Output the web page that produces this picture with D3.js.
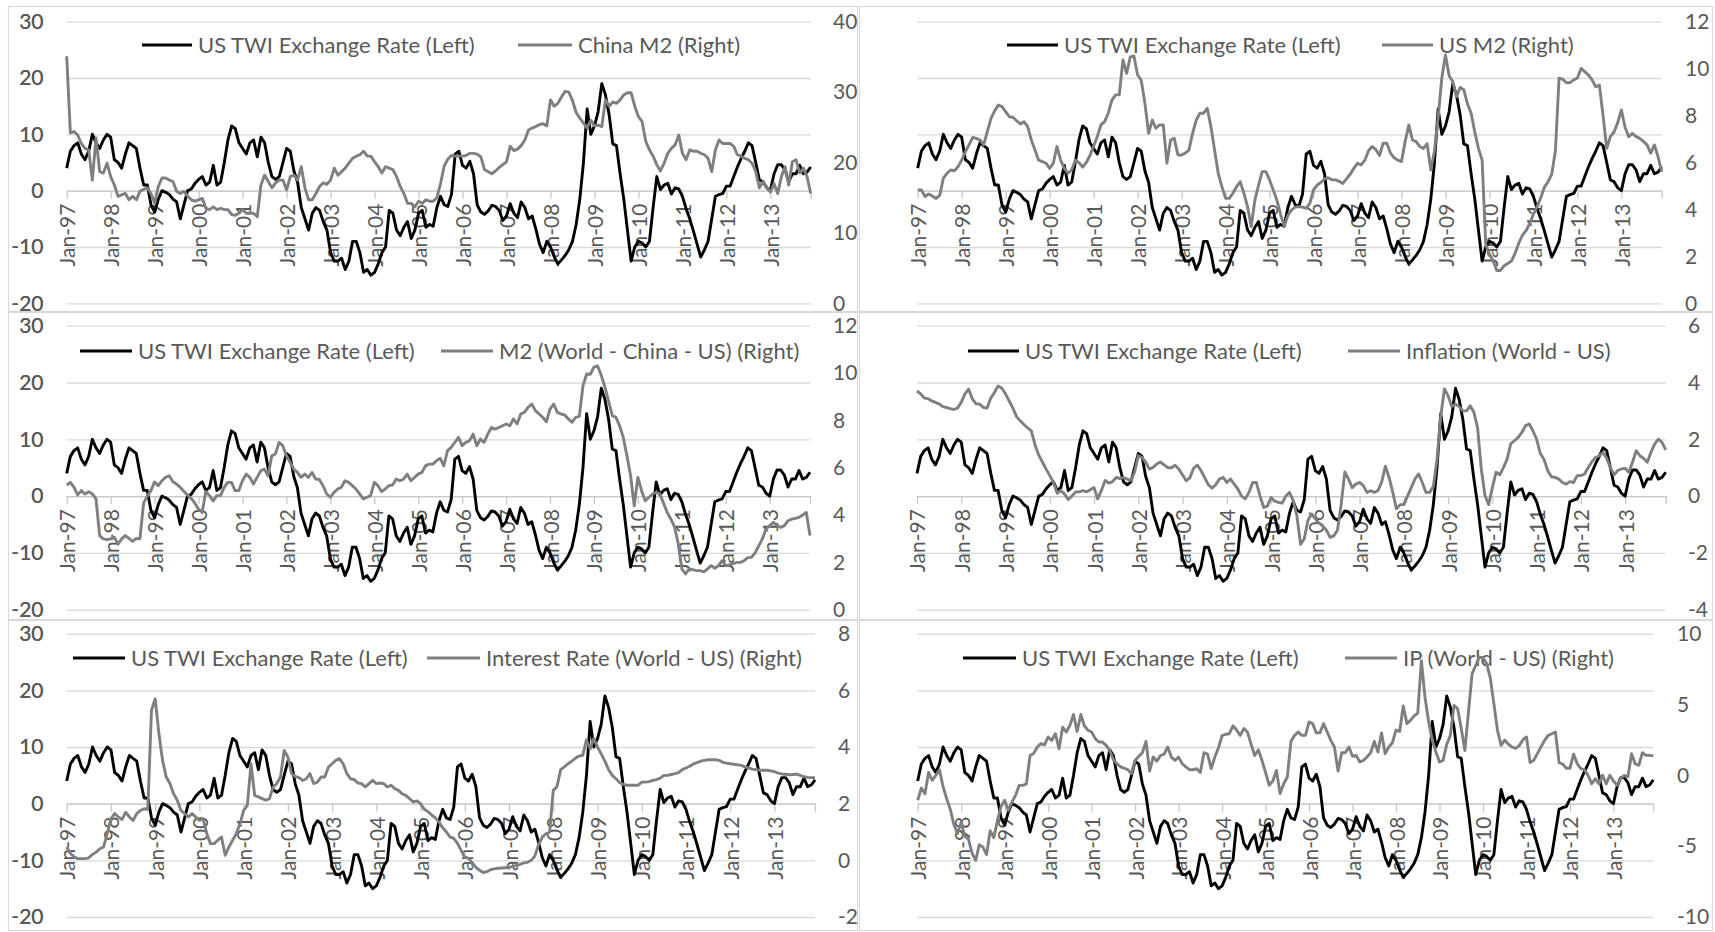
<!DOCTYPE html>
<html>
<head>
<meta charset="utf-8">
<script src="https://cdn.jsdelivr.net/npm/d3@7"></script>
<style>
  html, body { margin: 0; padding: 0; background: #ffffff; }
  svg { display: block; }
  text { font-family: Lato, "Open Sans", sans-serif; fill: #595959; }
</style>
</head>
<body>
<svg id="chart" width="1715" height="932"></svg>
<script>
// ---- Data: monthly, Jan-1997 .. Dec-2013 (204 observations) ----
const tickLabels = ["Jan-97","Jan-98","Jan-99","Jan-00","Jan-01","Jan-02","Jan-03","Jan-04","Jan-05",
                    "Jan-06","Jan-07","Jan-08","Jan-09","Jan-10","Jan-11","Jan-12","Jan-13"];

// US trade-weighted exchange rate, % y/y (left axis of every panel)
const usTwi = [
  4, 7, 8, 8.5, 6.5, 5.5, 7, 10, 8.5, 7.5, 9, 10,
  9.5, 5.5, 5, 4, 6.5, 8.5, 8, 7.5, 4, 1, 1, -2.5,
  -3.8, -1.5, 0, -0.3, -0.7, -1.5, -2, -5, -2.5, 0, 0.3, 1.3,
  2, 2.5, 1, 1.5, 4.5, 1, 1.5, 5, 9, 11.5, 11, 8.5,
  7.5, 6.5, 8.5, 9, 6, 9.5, 8.5, 5, 2.5, 2, 2.5, 5,
  7.5, 7, 3.5, 1.5, -3, -5, -7, -4, -3, -3.5, -5.5, -7,
  -11, -12.5, -12.5, -12, -14, -12.5, -9, -9, -11, -14.5, -14, -15,
  -14.5, -13, -11, -10, -3.5, -4, -7, -8, -6.5, -5.5, -8.5, -7,
  -4, -3.5, -6.5, -6, -6.3, -3, -1, -2.5, -2.8, -0.6, 6.5, 7,
  4.5, 4, 5.2, 3, -2.5, -3.8, -4.2, -3.6, -2.6, -2.8, -3.5, -5.3,
  -4.5, -2.3, -4, -4.8, -2, -3, -5, -4.5, -6.8, -9.5, -11, -9,
  -10, -11.7, -13, -12.3, -11.5, -10.5, -9, -6, -1.5, 5, 14.5, 10,
  11.5, 14, 19, 17, 13.5, 8.3, 8, 3, -1.5, -7, -12.5, -10,
  -9, -9.3, -10, -9, -3, 2.5, 0.2, 1, 1.3, -0.6, 0.5, 0.3,
  -1, -3.2, -5, -7.2, -9.5, -11.8, -10.5, -9, -5, -1, -0.7, -0.5,
  0.8, 0.8, 2.5, 4.2, 5.7, 7, 8.5, 8, 5, 1.9, 1.6, 0.5,
  0, 3, 4.6, 4.6, 3.7, 1.6, 3, 3, 4.5, 3, 3.3, 4.2
];

const chinaM2 = [
  35.1, 24.2, 24.4, 23.9, 22.7, 22, 21.8, 17.5, 23.5, 18.7, 18.5, 19.9,
  18, 16.8, 15.2, 15.4, 15.6, 14.7, 15.2, 14.7, 15.9, 16.2, 16.4, 15.6,
  14.2, 16.6, 17.8, 17.8, 17.5, 17.3, 15.9, 15.6, 15.9, 15.2, 14.7, 14.5,
  14.7, 14.9, 13.5, 13.3, 13.7, 13.3, 13.5, 13.3, 13.3, 12.6, 12.5, 12.8,
  13.3, 12.8, 12.8, 12.8, 12.3, 16.8, 18.2, 17.3, 16.4, 17.1, 17.5, 17.5,
  16.1, 18, 18.2, 17.5, 19.4, 16.4, 14.7, 14.7, 15.6, 16.6, 17.1, 16.9,
  17.5, 19.2, 18.2, 18.7, 19.2, 19.9, 20.6, 20.9, 21.1, 21.6, 20.9, 20.9,
  20.1, 19.4, 18.5, 19.4, 19.2, 19, 18, 16.6, 15.6, 14.2, 14.2, 13.7,
  14.5, 14.2, 14.7, 14.5, 14.5, 15, 17, 19.5, 20.5, 21, 20.9, 20.9,
  20.9, 21, 21.3, 21.3, 21.2, 20.8, 19, 18.7, 18.4, 18.8, 19.3, 19.7,
  20.1, 22.3, 21.7, 21.9, 22.4, 23.2, 24.6, 24.9, 25.1, 25.4, 25.5, 25.2,
  28.9, 28, 28.4, 29.3, 30.1, 30, 28.8, 27.1, 26.3, 25.6, 24.9, 26,
  25.2, 25.3, 25.1, 28.9, 28, 28.6, 28.4, 28.9, 29.6, 29.9, 29.9, 28,
  26.5, 25.8, 23, 21.8, 20.9, 19.7, 18.8, 19.9, 21.3, 22, 22.5, 23.9,
  21.3, 20.4, 21.8, 21.6, 21.6, 21.3, 21.1, 20.6, 18.7, 21.8, 23.2, 22.7,
  22.7, 22.7, 22.3, 21.1, 20.9, 20.6, 20.4, 19.9, 18.7, 16.4, 17.3, 16.4,
  15.8, 17, 15.6, 18, 19.4, 16.8, 20.1, 20.4, 18.5, 19.2, 18, 15.6
];

const usM2 = [
  4.83, 4.83, 4.55, 4.66, 4.57, 4.47, 4.6, 5.33, 5.54, 5.68, 5.65, 5.82,
  6.1, 6.46, 6.75, 7.07, 7.03, 6.96, 6.75, 7.32, 7.88, 8.2, 8.45, 8.38,
  8.17, 7.95, 7.93, 7.78, 7.64, 7.74, 7.53, 6.96, 6.53, 6.1, 6.04, 5.97,
  5.75, 5.97, 6.68, 6.1, 5.75, 5.54, 5.68, 6.1, 6, 5.8, 6, 6.3,
  6.7, 7.1, 7.6, 7.74, 8.1, 8.66, 8.88, 8.88, 10.37, 9.8, 10.5, 10.54,
  9.73, 9.5, 8.52, 7.24, 7.81, 7.46, 7.6, 7.6, 5.97, 6.96, 7.03, 6.32,
  6.32, 6.4, 6.53, 7.24, 7.81, 8.1, 8.1, 8.31, 7.53, 6.53, 5.54, 4.97,
  4.47, 4.47, 4.69, 4.97, 5.18, 4.69, 4.12, 3.27, 4.4, 5.04, 5.61, 5.61,
  5.26, 4.83, 4.4, 3.8, 3.27, 3.75, 3.98, 4.1, 4.12, 4.1, 4.05, 4.26,
  4.83, 5.04, 5.15, 5.3, 5.35, 5.26, 5.26, 5.2, 5.11, 5.3, 5.5, 5.75,
  5.97, 5.9, 6.1, 6.5, 6.68, 6.55, 6.3, 6.82, 6.82, 6.4, 6.2, 6.1,
  6.04, 6.9, 7.6, 6.96, 6.89, 6.68, 6.6, 6.8, 5.68, 6.5, 7.9, 9.6,
  10.58, 9.7, 9.45, 8.8, 9.2, 9.1, 8.5, 8.1, 7.3, 6.6, 6.1, 2.5,
  2.1, 1.8, 1.4, 1.4, 1.6, 1.7, 1.8, 2.13, 2.56, 2.9, 3.1, 3.4,
  3.8, 4.12, 4.5, 4.95, 5.18, 5.5, 6.5, 9.59, 9.55, 9.4, 9.4, 9.52,
  9.6, 10.01, 9.87, 9.73, 9.52, 9.23, 9.3, 8, 6.6, 7.1, 7.3, 7.7,
  8.24, 7.5, 7.1, 7.24, 7.1, 7.03, 6.9, 6.75, 6.4, 6.75, 6.25, 5.6
];

const m2RestOfWorld = [
  5.27, 5.38, 5.17, 4.85, 5.03, 4.89, 4.99, 4.89, 4.68, 3.13, 2.99, 2.96,
  2.99, 3.06, 2.77, 2.99, 3.13, 3.01, 2.89, 3.01, 3.0, 4.5, 4.8, 5.03,
  5.4, 5.24, 5.45, 5.59, 5.66, 5.41, 5.31, 5.17, 5.0, 4.85, 4.7, 4.5,
  4.25, 4.11, 5.0, 4.82, 4.6, 4.82, 4.82, 5.17, 5.38, 5.38, 5.03, 5.03,
  5.45, 5.73, 5.59, 5.31, 5.59, 5.87, 5.94, 5.66, 6.5, 6.58, 7.07, 6.93,
  6.51, 6.23, 5.94, 5.8, 5.59, 5.73, 5.59, 5.8, 5.52, 5.5, 5.24, 4.89,
  4.75, 4.96, 5.1, 5.17, 5.45, 5.38, 5.24, 5.1, 4.89, 4.68, 4.75, 4.82,
  5.38, 5.24, 4.99, 5.1, 5.24, 5.27, 5.52, 5.45, 5.52, 5.73, 5.45, 5.59,
  5.73, 5.8, 6.08, 6.15, 6.15, 6.3, 6.4, 6.08, 6.72, 6.86, 7.07, 7.28,
  6.93, 7.07, 7.14, 7.42, 6.93, 7.21, 7.07, 7.42, 7.7, 7.63, 7.7, 7.77,
  7.85, 7.77, 8.06, 7.85, 8.27, 8.34, 8.55, 8.69, 8.41, 8.27, 8.13, 7.94,
  8.48, 8.69, 8.34, 8.27, 8.23, 8.06, 7.92, 8.13, 8.17, 9.46, 9.96, 9.95,
  10.25, 10.3, 9.9, 9.4, 8.8, 8.2, 8.13, 7.77, 7.28, 6.51, 5.66, 4.39,
  5.59, 5.03, 4.6, 4.75, 4.89, 4.96, 4.9, 4.5, 4.11, 3.83, 3.5, 2.8,
  1.72, 1.51, 1.72, 1.69, 1.65, 1.65, 1.6, 1.72, 1.86, 1.75, 1.86, 2.07,
  1.86, 1.89, 1.95, 2.0, 2.0, 2.07, 2.2, 2.21, 2.4, 2.7, 2.99, 3.41,
  3.55, 3.69, 3.55, 3.48, 3.55, 3.76, 3.83, 3.86, 3.9, 4.0, 4.11, 3.13
];

const inflationDiff = [
  3.7, 3.6, 3.45, 3.43, 3.35, 3.3, 3.25, 3.15, 3.12, 3.08, 3.05, 3.1,
  3.3, 3.6, 3.77, 3.42, 3.25, 3.24, 3.12, 3.1, 3.45, 3.65, 3.88, 3.8,
  3.6, 3.35, 3.1, 2.8, 2.65, 2.52, 2.4, 2.3, 1.8, 1.45, 1.2, 0.95,
  0.72, 0.48, 0.1, 0.2, 0.07, -0.12, 0.0, 0.15, 0.15, 0.19, 0.15, 0.22,
  0.3, -0.1, 0.2, 0.55, 0.46, 0.51, 0.66, 0.62, 0.65, 0.6, 0.55, 0.85,
  1.42, 1.36, 1.2, 0.95, 1.01, 1.13, 1.2, 1.1, 1.0, 1.0, 1.09, 0.95,
  0.74, 0.54, 0.65, 0.98, 1.09, 0.9, 0.65, 0.4, 0.28, 0.4, 0.6, 0.66,
  0.48, 0.6, 0.42, 0.25, 0.0, -0.1, 0.13, 0.48, 0.48, 0.01, -0.4, -0.35,
  -0.05, -0.18, -0.22, -0.25, 0.0, 0.13, -0.16, -0.69, -1.7, -1.5, -0.85, -0.63,
  -0.8, -0.95, -1.05, -1.2, -1.45, -1.4, -1.2, -0.3, 0.85, 0.6, 0.3, 0.42,
  0.48, 0.37, 0.13, 0.19, 0.13, 0.2, 0.5, 1.05, 0.66, 0.13, -0.45, -0.3,
  -0.3, 0.0, 0.3, 0.6, 0.78, 0.48, 0.13, 0.13, 0.35, 1.3, 2.8, 3.77,
  3.53, 3.15, 3.24, 3.15, 3.0, 3.0, 3.18, 2.95, 2.4, 0.95, 0.02, -0.3,
  0.3, 0.84, 0.75, 1.0, 1.3, 1.85, 1.95, 2.07, 2.24, 2.48, 2.54, 2.3,
  2.0, 1.5, 1.3, 0.9, 0.68, 0.66, 0.6, 0.48, 0.42, 0.51, 0.48, 0.72,
  0.72, 0.78, 1.01, 1.21, 1.36, 1.42, 1.54, 1.33, 1.0, 0.75, 0.9, 0.96,
  0.98, 0.84, 1.19, 1.6, 1.42, 1.33, 1.19, 1.54, 1.83, 2.01, 1.89, 1.63
];

const interestDiff = [
  0.47, 0.24, 0.12, 0.06, 0.06, 0.06, 0.09, 0.21, 0.29, 0.41, 0.47, 0.94,
  1.47, 1.65, 1.53, 1.44, 1.7, 1.53, 1.41, 1.65, 1.76, 1.82, 1.8, 5.3,
  5.7, 4.5, 3.53, 2.94, 2.71, 2.35, 2.12, 1.76, 1.65, 1.53, 1.65, 1.53,
  1.41, 1.47, 0.94, 0.59, 0.59, 0.71, 0.82, 0.18, 0.47, 0.71, 0.94, 1.29,
  1.76, 1.94, 3.41, 2.29, 2.24, 2.18, 2.12, 2.18, 2.59, 2.71, 2.94, 3.88,
  3.65, 3.06, 2.96, 2.92, 2.82, 2.88, 3.06, 2.71, 2.76, 2.94, 2.94, 3.29,
  3.41, 3.53, 3.59, 3.41, 3.06, 2.88, 2.85, 2.73, 2.71, 2.59, 2.71, 2.82,
  2.71, 2.73, 2.71, 2.59, 2.65, 2.53, 2.47, 2.35, 2.29, 2.18, 2.06, 2.1,
  2.0, 1.8, 1.72, 1.6, 1.5, 1.35, 1.15, 1.0, 0.82, 0.78, 0.6, 0.35,
  0.12, 0.07, -0.08, -0.25, -0.35, -0.43, -0.4, -0.33, -0.3, -0.28, -0.27, -0.26,
  -0.24, -0.22, -0.18, -0.14, -0.09, -0.07, 0.0, 0.15, 0.55, 0.82, 0.94, 1.0,
  2.47, 2.6, 3.2, 3.3, 3.41, 3.5, 3.6, 3.68, 3.71, 4.25, 3.94, 4.3,
  4.0, 3.76, 3.5, 3.2, 3.0, 2.88, 2.75, 2.68, 2.65, 2.65, 2.65, 2.65,
  2.76, 2.76, 2.78, 2.82, 2.85, 2.9, 3.0, 3.0, 3.03, 3.06, 3.1, 3.2,
  3.26, 3.32, 3.4, 3.45, 3.5, 3.53, 3.55, 3.55, 3.55, 3.53, 3.46, 3.43,
  3.41, 3.39, 3.37, 3.35, 3.3, 3.26, 3.22, 3.2, 3.18, 3.18, 3.18, 3.16,
  3.13, 3.08, 3.05, 3.04, 3.02, 3.03, 3.04, 3.0, 2.95, 2.93, 2.92, 2.92
];

const ipDiff = [
  -1.76, -0.9, -1.3, 0.2, -0.35, 0, 0.4, -0.8, -1.65, -2.4, -3.5, -4.1,
  -3.3, -4.3, -4.5, -5.5, -6, -4.9, -5.06, -5.6, -3.9, -4.4, -3.2, -2.2,
  -1.76, -2.47, -1.9, -1.41, -0.71, -0.71, -0.6, 1.4, 1.55, 2.0, 2.24, 2.15,
  2.7, 2.47, 2.94, 1.88, 3.4, 3.06, 3.53, 4.3, 3.1, 4.3, 3.5, 3.18,
  3.06, 2.59, 2.35, 2.35, 2.12, 1.76, 1.1, 0.82, 0.6, 0.5, 0.4, 0.12,
  1.06, 1.34, 1.6, 2.4, 0.3, 1.3, 1.0, 1.4, 1.5, 2.0, 1.29, 1.06,
  1.29, 0.82, 0.6, 0.4, 0.4, 0.47, 0.2, 1.6, 1.5, 0.47, 1.29, 1.95,
  2.8, 2.9, 2.94, 3.5, 3.2, 2.82, 3.3, 3.06, 2.2, 1.4, 1.8, 1.06,
  0.2, -0.7, -0.4, 0.35, -1.29, -0.59, -0.12, 2.4, 2.82, 3.06, 2.82, 2.82,
  3.76, 3.65, 3.0, 3.0, 3.65, 3.06, 2.47, 2.0, 0.3, 1.6, 1.6, 2.0,
  1.35, 1.41, 0.94, 1.06, 1.3, 1.6, 2.4, 1.65, 3.0, 1.53, 2.0, 2.3,
  3.2, 3.1, 4.9, 3.65, 3.88, 4.2, 4.4, 8.1, 5.5, 3.8, 2.47, 1.65,
  0.94, 1.06, 2.2, 2.82, 4.94, 4.7, 3.3, 1.76, 4.5, 7.18, 7.76, 8.35,
  8.3, 7.9, 6.9, 5.06, 3.18, 2.12, 2.5, 2.2, 2.0, 1.9, 2.1, 2.5,
  2.71, 0.9, 1.06, 1.53, 2.0, 2.47, 2.82, 2.94, 3.06, 0.9, 0.8, 0.5,
  0.5, 1.5, 0.82, 0.47, 0.4, 0.0, -0.59, -0.24, -0.6, 0.0, -0.6, 0.0,
  -0.4, -0.7, -0.2, 0.0, -0.1, 1.53, 0.82, 0.71, 1.6, 1.41, 1.41, 1.38
];

// Axis tick values
const leftTicks        = [-20, -10, 0, 10, 20, 30];
const chinaM2Ticks     = [0, 10, 20, 30, 40];
const usM2Ticks        = [0, 2, 4, 6, 8, 10, 12];
const m2RestTicks      = [0, 2, 4, 6, 8, 10, 12];
const inflationTicks   = [-4, -2, 0, 2, 4, 6];
const interestTicks    = [-2, 0, 2, 4, 6, 8];
const ipTicks          = [-10, -5, 0, 5, 10];

const twiName = "US TWI Exchange Rate (Left)";

// ---- Panel layout ----
const panels = [
  { box: [8, 6, 857, 311],     plot: [66.7, 810.7, 21.7, 303.3],  rightX: 833,
    series: chinaM2, ticks: chinaM2Ticks, name: "China M2 (Right)",
    legend: { y: 45, a: 142, b: 192, c: 518, d: 572 } },
  { box: [859, 6, 1712, 311],  plot: [917.7, 1661.7, 21.7, 303.3], rightX: 1685,
    series: usM2, ticks: usM2Ticks, name: "US M2 (Right)",
    legend: { y: 45, a: 1007, b: 1058, c: 1382, d: 1433 } },
  { box: [8, 312, 857, 619],   plot: [66.7, 810, 325.7, 609.7],   rightX: 833,
    series: m2RestOfWorld, ticks: m2RestTicks, name: "M2 (World - China - US) (Right)",
    legend: { y: 351, a: 80, b: 132, c: 441, d: 493 } },
  { box: [859, 312, 1712, 619], plot: [917, 1665.7, 325.7, 609.7], rightX: 1688,
    series: inflationDiff, ticks: inflationTicks, name: "Inflation (World - US)",
    legend: { y: 351, a: 968, b: 1019, c: 1348, d: 1400 } },
  { box: [8, 620, 857, 930],   plot: [66.7, 815, 633.7, 917],     rightX: 838,
    series: interestDiff, ticks: interestTicks, name: "Interest Rate (World - US) (Right)",
    legend: { y: 658, a: 73, b: 125, c: 427, d: 480 } },
  { box: [859, 620, 1712, 930], plot: [917.7, 1653.3, 633.7, 917], rightX: 1677,
    series: ipDiff, ticks: ipTicks, name: "IP (World - US) (Right)",
    legend: { y: 658, a: 963, b: 1016, c: 1345, d: 1397 } }
];

const FONT = 21;
const LEGEND_FONT = 22;
const GRID = "#d9d9d9";
const BLACK = "#000000";
const GREY = "#7f7f7f";
const LW = 2.9;
const fmt = d => String(d);   // plain hyphen-minus, as in the source workbook

const svg = d3.select("#chart");
svg.append("rect").attr("width", 1715).attr("height", 932).attr("fill", "#ffffff");

panels.forEach(p => {
  const [L, R, T, B] = p.plot;
  const g = svg.append("g");

  // chart-area frame
  g.append("rect")
    .attr("x", p.box[0] + 0.5).attr("y", p.box[1] + 0.5)
    .attr("width", p.box[2] - p.box[0]).attr("height", p.box[3] - p.box[1])
    .attr("fill", "none").attr("stroke", GRID).attr("stroke-width", 1.2);

  const n = usTwi.length;
  const x = d3.scaleLinear().domain([0, n - 1]).range([L, R]);
  const yL = d3.scaleLinear().domain([d3.min(leftTicks), d3.max(leftTicks)]).range([B, T]);
  const yR = d3.scaleLinear().domain([d3.min(p.ticks), d3.max(p.ticks)]).range([B, T]);

  // left axis + horizontal gridlines
  const ax = g.append("g").attr("transform", `translate(${L},0)`)
    .call(d3.axisLeft(yL).tickValues(leftTicks).tickSize(-(R - L)).tickPadding(L - 43.5)
      .tickFormat(fmt));
  ax.select(".domain").remove();
  ax.selectAll(".tick line").attr("stroke", GRID).attr("stroke-width", 1.3);
  ax.selectAll(".tick text").attr("font-size", FONT).attr("fill", "#595959")
    .attr("font-family", "Lato, 'Open Sans', sans-serif");

  // right axis labels
  const ar = g.append("g").attr("transform", `translate(${R},0)`)
    .call(d3.axisRight(yR).tickValues(p.ticks).tickSize(0).tickPadding(p.rightX - R)
      .tickFormat(fmt));
  ar.select(".domain").remove();
  ar.selectAll(".tick text").attr("font-size", FONT).attr("fill", "#595959")
    .attr("font-family", "Lato, 'Open Sans', sans-serif");

  // category axis crossing at zero on the left scale
  const y0 = yL(0);
  const catTicks = d3.range(0, n, 12).concat([n - 1]);
  const axx = g.append("g").attr("transform", `translate(0,${y0})`)
    .call(d3.axisBottom(x).tickValues(catTicks).tickSize(8).tickSizeOuter(0)
      .tickFormat(i => (i % 12 === 0 ? tickLabels[i / 12] : "")));
  axx.select(".domain").attr("stroke", "#c8c8c8").attr("stroke-width", 1.3);
  axx.selectAll(".tick line").attr("stroke", "#c8c8c8").attr("stroke-width", 1.3);
  axx.selectAll(".tick text")
    .attr("font-size", FONT).attr("fill", "#595959")
    .attr("font-family", "Lato, 'Open Sans', sans-serif")
    .attr("text-anchor", "end")
    .attr("transform", "rotate(-90)")
    .attr("x", -13).attr("y", 0).attr("dy", "0.38em");

  // legend
  const lg = g.append("g").attr("class", "legend");
  const Ly = p.legend.y;
  lg.append("line").attr("x1", p.legend.a).attr("x2", p.legend.b).attr("y1", Ly).attr("y2", Ly)
    .attr("stroke", BLACK).attr("stroke-width", LW);
  lg.append("text").attr("x", p.legend.b + 6).attr("y", Ly).attr("dy", "0.35em")
    .attr("font-size", LEGEND_FONT).text(twiName);
  lg.append("line").attr("x1", p.legend.c).attr("x2", p.legend.d).attr("y1", Ly).attr("y2", Ly)
    .attr("stroke", GREY).attr("stroke-width", LW);
  lg.append("text").attr("x", p.legend.d + 6).attr("y", Ly).attr("dy", "0.35em")
    .attr("font-size", LEGEND_FONT).text(p.name);

  // series: exchange rate on the left scale, comparison series on the right scale
  const lineL = d3.line().x((d, i) => x(i)).y(d => yL(d));
  const lineR = d3.line().x((d, i) => x(i)).y(d => yR(d));
  g.append("path").datum(usTwi).attr("d", lineL)
    .attr("fill", "none").attr("stroke", BLACK).attr("stroke-width", LW)
    .attr("stroke-linejoin", "round");
  g.append("path").datum(p.series).attr("d", lineR)
    .attr("fill", "none").attr("stroke", GREY).attr("stroke-width", LW)
    .attr("stroke-linejoin", "round");
});
</script>
</body>
</html>
